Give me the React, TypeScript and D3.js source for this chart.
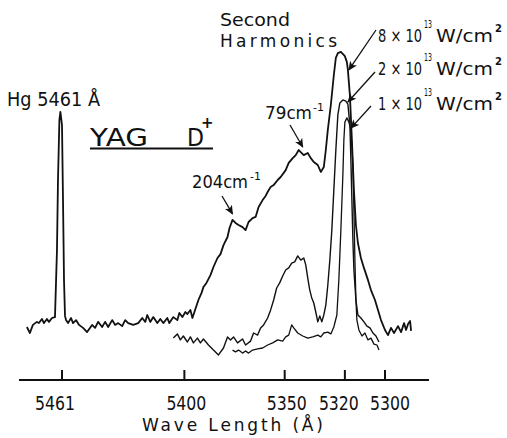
import React from "react";
import * as d3 from "d3";

const width = 507;
const height = 438;

// 8 x 10^13 W/cm2 trace (also shows the Hg 5461 reference line)
const wl8 = [
  5478.5, 5477, 5475.5, 5473.5, 5472.5, 5471, 5470, 5468.5, 5467.5, 5466, 5464.5, 5463.5, 5463, 5462.3,
  5461.8, 5461, 5460.5, 5460, 5459.5, 5459, 5458, 5456.5, 5455.5, 5454, 5452.5, 5450.5, 5448.5, 5446,
  5444.5, 5443, 5441, 5439.5, 5438, 5436, 5434.5, 5433, 5431, 5429.5, 5428, 5425.5, 5423, 5421, 5419.5,
  5418.5, 5417, 5415.5, 5413.5, 5412, 5410.5, 5408.5, 5407.5, 5405.5, 5403.5, 5402.5, 5401, 5399.5,
  5398.5, 5397, 5396, 5395, 5393, 5391.5, 5390.5, 5389, 5387, 5385.5, 5383.5, 5382, 5380.5, 5378.5,
  5377.5, 5376, 5374.5, 5373, 5371, 5369.5, 5368, 5366, 5364.5, 5363, 5361, 5359.5, 5358.5, 5357,
  5355.5, 5353.5, 5352, 5349.5, 5348, 5346, 5344.5, 5343, 5342, 5340.5, 5338.5, 5337, 5335.5, 5333.5,
  5332, 5330.5, 5329.5, 5328.5, 5327, 5325.5, 5324.5, 5323.5, 5322, 5320, 5319, 5318.5, 5317.5, 5316.5,
  5315.5, 5314.5, 5313.5, 5312, 5310.5, 5308.5, 5307, 5305, 5303.5, 5302, 5300, 5298.5, 5297, 5295.5,
  5293.5, 5292, 5290.5, 5289.5, 5288.5, 5287.5, 5287,
];
const int8 = [
  11.0, 9.0, 11.7, 12.7, 12.3, 13.7, 12.3, 13.7, 12.7, 14, 14.3, 36.7, 60, 80, 82.7, 78.3, 53.3, 26.7,
  14.7, 13.3, 12.3, 14, 12.3, 13.3, 11.7, 10.7, 9.3, 11.7, 10.7, 12.7, 11, 12.7, 11, 13.3, 11.7, 12.3,
  11.3, 13.3, 12.3, 11.7, 12.3, 14, 12.7, 15, 12.7, 14.3, 12.3, 13.7, 12.3, 14, 12.3, 14.3, 13.3, 15.7,
  14.3, 16, 15.3, 16.7, 14, 16, 20, 22.3, 24.3, 25.7, 28.3, 31, 34, 35.3, 38.3, 41, 44, 46.7, 45.7, 45,
  44.3, 43.3, 46, 47.3, 47.7, 51, 53.3, 54.7, 56, 57.7, 58.3, 60, 61, 63.3, 65.7, 67.3, 68.3, 70, 69.3,
  68.3, 69, 67.3, 66, 65, 62.7, 64.3, 70, 76.7, 85, 95, 100.7, 102.3, 102.7, 101.3, 99.3, 96.7, 88.3,
  73.3, 56.7, 45, 39, 34, 30.7, 26.7, 23.3, 20, 16.7, 13.3, 10, 8.3, 10.7, 9, 11.3, 9.3, 12.3, 10, 12,
  13, 9.7,
];

// 2 x 10^13 W/cm2 trace
const wl2 = [
  5405.5, 5403.5, 5402, 5400.5, 5398.5, 5397, 5395.5, 5393.5, 5392, 5390.5, 5388, 5385.5, 5383, 5380.5,
  5378.5, 5377, 5375.5, 5373.5, 5371, 5369.5, 5367, 5365.5, 5363.5, 5362, 5360.5, 5358.5, 5357, 5355.5,
  5354, 5352.5, 5351, 5349.5, 5348, 5346.5, 5345, 5343.5, 5342, 5340.5, 5339.5, 5338.5, 5337.5, 5336.5,
  5335.5, 5334.5, 5333.5, 5332.5, 5331.5, 5330.5, 5329.5, 5328.5, 5327.5, 5326.5, 5325.5, 5324.5, 5323.5,
  5322.5, 5321, 5319.5, 5318.5, 5317.5, 5317, 5316.5, 5316, 5315.5, 5314.5, 5313.5, 5312, 5310.5, 5309,
  5307.5, 5306, 5304.5, 5303,
];
const int2 = [
  7.3, 8.7, 6.7, 8, 6, 7.7, 5.7, 7.3, 5.7, 7, 5, 3.3, 1.7, 4, 7.7, 6.7, 7.7, 5.7, 7, 5, 6.3, 9, 8.3,
  10.7, 11.7, 14, 16.7, 20, 24, 25.7, 28, 30, 30.7, 32.3, 32.7, 34.7, 33.3, 34, 31.7, 27.3, 23.3, 20.7,
  19, 16, 12.7, 14.7, 12.7, 15, 18.3, 25, 33.3, 43.3, 56.7, 70, 81.7, 85.7, 86.7, 86.3, 85.3, 78.3,
  66.7, 53.3, 40, 30, 20, 15, 14, 12.7, 11.3, 10.7, 9, 8, 6,
];

// 1 x 10^13 W/cm2 trace
const wl1 = [
  5376, 5374.5, 5373, 5371, 5369.5, 5368, 5366, 5363.5, 5361, 5358.5, 5356, 5353.5, 5351, 5349.5, 5348,
  5346.5, 5345.5, 5343.5, 5341, 5338.5, 5336, 5333.5, 5332, 5330.5, 5328.5, 5327, 5325.5, 5324, 5323,
  5322, 5321, 5320.5, 5320, 5319, 5318, 5317, 5316, 5315.5, 5315, 5314.5, 5314, 5313, 5311.5, 5310,
  5308.5, 5307, 5305.5, 5304, 5303,
];
const int1 = [
  3.3, 2.7, 3.3, 2.3, 3, 2.3, 3.3, 3.7, 4, 5, 5.7, 6.7, 6.3, 7.7, 8.3, 11.7, 10.7, 9, 8, 7.3, 7.7,
  8.3, 7.7, 9, 9.3, 8.7, 11, 15, 26.7, 43.3, 61.7, 73.3, 79.3, 80.7, 79.3, 76.7, 65, 50, 33.3, 20,
  13.3, 10, 8, 9, 6.7, 7.3, 5.3, 5, 3.3,
];

const tickValues = [5461, 5400, 5350, 5320, 5300];
const powerLabels = ["8", "2", "1"];
// where each power label's leader arrow lands (wavelength, intensity)
const powerTips = [
  [5318, 96.7],
  [5318.5, 86],
  [5317, 77.3],
];

const font = "'DejaVu Sans', sans-serif";
const ink = "#111";

const App = () => {
  const x = d3.scaleLinear().domain([5461, 5300]).range([62, 385]);
  const y = d3.scaleLinear().domain([0, 100]).range([360, 60]);

  const line = d3
    .line<[number, number]>()
    .x((d) => x(d[0]))
    .y((d) => y(d[1]));

  const series = [
    { wl: wl8, val: int8, sw: 1.8 },
    { wl: wl2, val: int2, sw: 1.4 },
    { wl: wl1, val: int1, sw: 1.3 },
  ];

  const axisY = 380;
  // the typed tick labels sit a little off their ticks in the original
  const labelShift: Record<number, number> = { 5461: -7, 5400: 2, 5350: 2, 5320: -6, 5300: 5 };

  return (
    <svg width={width} height={height} style={{ position: "absolute", left: 0, top: 0, background: "#fff" }}>
      <defs>
        <marker id="ah" viewBox="0 0 10 10" refX="9" refY="5" markerWidth="7" markerHeight="7" orient="auto">
          <path d="M0,0.5 L10,5 L0,9.5 L2.5,5 z" fill={ink} />
        </marker>
      </defs>
      <rect width={width} height={height} fill="#fff" />

      {series.map((s, i) => (
        <path
          key={i}
          d={line(s.wl.map((w, j) => [w, s.val[j]] as [number, number])) || ""}
          fill="none"
          stroke={ink}
          strokeWidth={s.sw}
          strokeLinejoin="round"
        />
      ))}

      {/* axis */}
      <line x1={19} x2={429} y1={axisY} y2={axisY} stroke={ink} strokeWidth={2} />
      {tickValues.map((t) => (
        <g key={t}>
          <line x1={x(t)} x2={x(t)} y1={axisY} y2={axisY - 10} stroke={ink} strokeWidth={2} />
          <text
            x={x(t) + labelShift[t]}
            y={410}
            textAnchor="middle"
            fontFamily={font}
            fontSize={20}
            textLength={40}
            lengthAdjust="spacingAndGlyphs"
            fill={ink}
          >
            {t}
          </text>
        </g>
      ))}
      <text x={142} y={431} fontFamily={font} fontSize={17} textLength={181} lengthAdjust="spacing" fill={ink}>
        Wave Length (Å)
      </text>

      {/* labels */}
      <text x={7} y={106} fontFamily={font} fontSize={19} textLength={93} lengthAdjust="spacingAndGlyphs" fill={ink}>
        Hg 5461 Å
      </text>

      <text x={90} y={146} fontFamily={font} fontSize={25} fill={ink}>
        <tspan textLength={58} lengthAdjust="spacingAndGlyphs">YAG</tspan>
        <tspan x={187} textLength={17} lengthAdjust="spacingAndGlyphs">D</tspan>
        <tspan x={201} dy={-18} fontSize={15} fontWeight="bold">+</tspan>
      </text>
      <line x1={90} x2={213} y1={148.5} y2={148.5} stroke={ink} strokeWidth={2} />

      <text x={220} y={26} fontFamily={font} fontSize={17} textLength={70} lengthAdjust="spacingAndGlyphs" fill={ink}>
        Second
      </text>
      <text x={220} y={47} fontFamily={font} fontSize={17} textLength={117} lengthAdjust="spacing" fill={ink}>
        Harmonics
      </text>

      {powerLabels.map((p, i) => {
        const base = [42, 75, 110][i];
        const sx = [376, 375, 371][i];
        const sy = [30, 72, 106][i];
        return (
          <g key={p}>
            <text x={378} y={base} fontFamily={font} fontSize={18} fill={ink}>
              <tspan textLength={44} lengthAdjust="spacingAndGlyphs">{`${p} × 10`}</tspan>
              <tspan x={424} dy={-14} fontSize={10} textLength={8} lengthAdjust="spacingAndGlyphs">13</tspan>
              <tspan x={436} dy={14} textLength={57} lengthAdjust="spacingAndGlyphs">W/cm</tspan>
              <tspan x={495} dy={-10} fontSize={10} fontWeight="bold">2</tspan>
            </text>
            <line
              x1={sx}
              y1={sy}
              x2={x(powerTips[i][0])}
              y2={y(powerTips[i][1])}
              stroke={ink}
              strokeWidth={1.3}
              markerEnd="url(#ah)"
            />
          </g>
        );
      })}

      <text x={265} y={119} fontFamily={font} fontSize={18} fill={ink}>
        <tspan textLength={47} lengthAdjust="spacingAndGlyphs">79cm</tspan>
        <tspan x={313} dy={-8} fontSize={11}>-1</tspan>
      </text>
      <line x1={290} y1={125} x2={x(5341)} y2={y(71)} stroke={ink} strokeWidth={1.3} markerEnd="url(#ah)" />

      <text x={192} y={188} fontFamily={font} fontSize={18} fill={ink}>
        <tspan textLength={56} lengthAdjust="spacingAndGlyphs">204cm</tspan>
        <tspan x={250} dy={-8} fontSize={11}>-1</tspan>
      </text>
      <line x1={222} y1={196} x2={x(5376)} y2={y(48.7)} stroke={ink} strokeWidth={1.3} markerEnd="url(#ah)" />
    </svg>
  );
};

export default App;
